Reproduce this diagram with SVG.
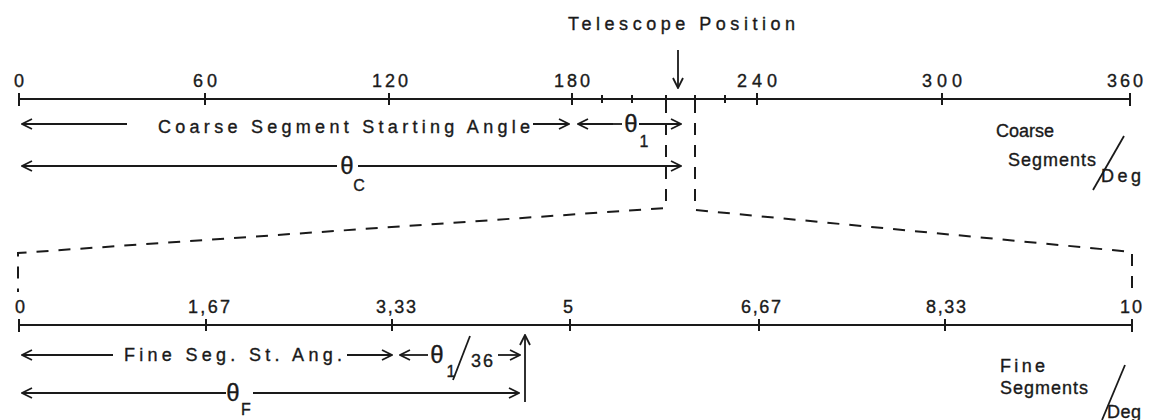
<svg xmlns="http://www.w3.org/2000/svg" width="1154" height="420" viewBox="0 0 1154 420">
<style>
text{font-family:"Liberation Sans","DejaVu Sans",sans-serif;fill:#1a1a1a;stroke:#1a1a1a;stroke-width:0.35}
.lbl{font-size:18px}
.num{font-size:18px;text-anchor:middle}
.th{font-size:24px;text-anchor:middle}
.sub{font-size:16px;text-anchor:middle}
.ax{stroke:#1a1a1a;stroke-width:2;fill:none}
.ln{stroke:#1a1a1a;stroke-width:1.8;fill:none}
.dash{stroke:#1a1a1a;stroke-width:2;fill:none;stroke-dasharray:12 10}
.arr{marker-end:url(#ah)}
</style>
<defs>
<marker id="ah" viewBox="0 0 12 12" refX="11" refY="6" markerWidth="12" markerHeight="12" markerUnits="userSpaceOnUse" orient="auto-start-reverse">
<path d="M1,1 L11,6 L1,11" fill="none" stroke="#1a1a1a" stroke-width="1.8"/>
</marker>
</defs>
<rect width="1154" height="420" fill="#ffffff"/>

<g id="coarse-axis">
<line class="ax" x1="19" y1="99" x2="1131" y2="99"/>
<path class="ax" d="M19,93V106M205,93V105M389,93V105M572,93V105M602,95V103M632,95V103M666,95V103M695,95V103M725,95V103M757,93V105M942,93V105M1130,93V106"/>
<text class="num" x="19" y="87">0</text>
<text class="num" x="205" y="87" textLength="24" lengthAdjust="spacing">60</text>
<text class="num" x="390" y="87" textLength="36" lengthAdjust="spacing">120</text>
<text class="num" x="572" y="87" textLength="36" lengthAdjust="spacing">180</text>
<text class="num" x="757" y="87" textLength="40" lengthAdjust="spacing">240</text>
<text class="num" x="942" y="87" textLength="40" lengthAdjust="spacing">300</text>
<text class="num" x="1125" y="87" textLength="36" lengthAdjust="spacing">360</text>
</g>

<g id="telescope-position">
<text class="lbl" x="568" y="30" textLength="227" lengthAdjust="spacing">Telescope Position</text>
</g>

<g id="coarse-start-label">
<text class="lbl" x="158" y="133" textLength="372" lengthAdjust="spacing">Coarse Segment Starting Angle</text>
</g>

<g id="theta1">
<text class="th" x="631" y="132">θ</text>
<text class="sub" x="644" y="147">1</text>
</g>

<g id="thetaC">
<text class="th" x="347" y="174">θ</text>
<text class="sub" x="359" y="191">C</text>
</g>

<g id="coarse-units">
<text class="lbl" x="996" y="137" textLength="58" lengthAdjust="spacing">Coarse</text>
<text class="lbl" x="1008" y="166" textLength="88" lengthAdjust="spacing">Segments</text>
<text class="lbl" x="1101" y="182" textLength="40" lengthAdjust="spacing">Deg</text>
<line class="ln" x1="1093" y1="190" x2="1124" y2="136"/>
</g>

<g id="fine-axis">
<line class="ax" x1="19" y1="325" x2="1132" y2="325"/>
<path class="ax" d="M19,319V332M206,319V331M392,319V331M570,319V331M759,319V331M945,319V331M1132,319V332"/>
<text class="num" x="20" y="313">0</text>
<text class="num" x="209" y="313" textLength="42" lengthAdjust="spacing">1,67</text>
<text class="num" x="396" y="313" textLength="40" lengthAdjust="spacing">3,33</text>
<text class="num" x="568" y="313">5</text>
<text class="num" x="761" y="313" textLength="40" lengthAdjust="spacing">6,67</text>
<text class="num" x="946" y="313" textLength="40" lengthAdjust="spacing">8,33</text>
<text class="num" x="1131" y="313" textLength="22" lengthAdjust="spacing">10</text>
</g>

<g id="fine-start-label">
<text class="lbl" x="124" y="361" textLength="218" lengthAdjust="spacing">Fine Seg. St. Ang.</text>
</g>

<g id="theta1-36">
<text class="th" x="437" y="363">θ</text>
<text class="sub" x="451" y="377">1</text>
<line class="ln" x1="453" y1="380" x2="470" y2="336"/>
<text class="lbl" x="471" y="367" textLength="22" lengthAdjust="spacing">36</text>
</g>

<g id="thetaF">
<text class="th" x="233" y="401">θ</text>
<text class="sub" x="246" y="415">F</text>
</g>

<g id="fine-units">
<text class="lbl" x="1000" y="372" textLength="45" lengthAdjust="spacing">Fine</text>
<text class="lbl" x="1000" y="394" textLength="88" lengthAdjust="spacing">Segments</text>
<text class="lbl" x="1107" y="418" textLength="34" lengthAdjust="spacing">Deg</text>
<line class="ln" x1="1102" y1="420" x2="1125" y2="365"/>
</g>

<g id="connectors">
<line class="ln arr" x1="678" y1="50" x2="678" y2="88"/>
<line class="ln arr" x1="127" y1="124" x2="22" y2="124"/>
<line class="ln arr" x1="533" y1="124" x2="569" y2="124"/>
<line class="ln arr" x1="613" y1="124" x2="578" y2="124"/>
<line class="ln" x1="613" y1="124" x2="622" y2="124"/>
<line class="ln arr" x1="639" y1="124" x2="681" y2="124"/>
<line class="ln arr" x1="337" y1="166" x2="22" y2="166"/>
<line class="ln arr" x1="358" y1="166" x2="681" y2="166"/>
<path class="dash" d="M666,101V208L18,253V292"/>
<path class="dash" d="M695,101V210L1132,252V293"/>
<line class="ln arr" x1="113" y1="355" x2="22" y2="355"/>
<line class="ln arr" x1="347" y1="355" x2="392" y2="355"/>
<line class="ln arr" x1="428" y1="355" x2="400" y2="355"/>
<line class="ln arr" x1="498" y1="355" x2="520" y2="355"/>
<line class="ln arr" x1="525" y1="402" x2="525" y2="335"/>
<line class="ln arr" x1="226" y1="393" x2="22" y2="393"/>
<line class="ln arr" x1="253" y1="393" x2="519" y2="393"/>
</g>
</svg>
